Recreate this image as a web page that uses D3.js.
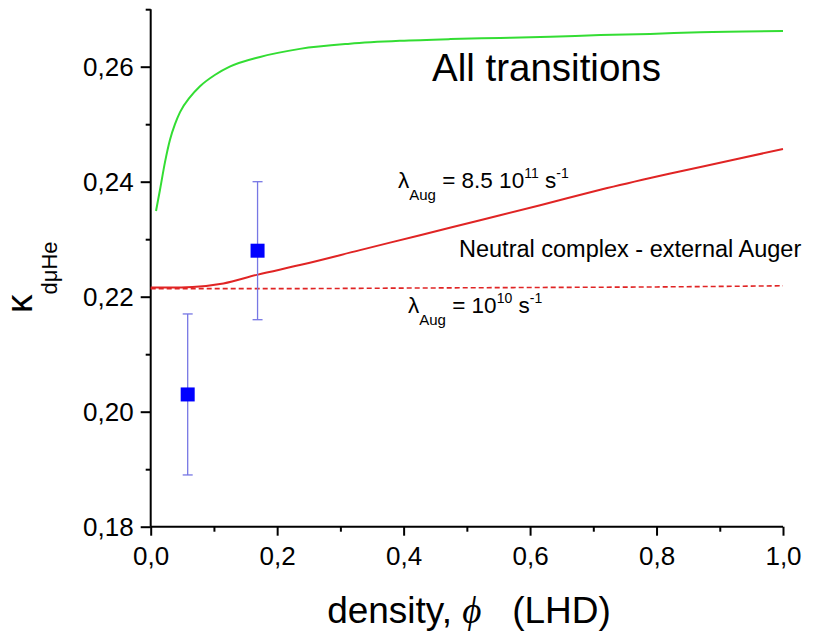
<!DOCTYPE html>
<html><head><meta charset="utf-8">
<script src="https://cdn.jsdelivr.net/npm/d3@7"></script>
<style>
body{margin:0;background:#fff;}
svg{display:block;font-family:"Liberation Sans",Arial,Helvetica,sans-serif;}
</style></head>
<body><svg id="chart" width="817" height="635"></svg>
<script>
// ---- data ----
const xTickValues = [0, 0.2, 0.4, 0.6, 0.8, 1.0];
const xTickLabels = ["0,0", "0,2", "0,4", "0,6", "0,8", "1,0"];
const xMinorTicks = [0.1, 0.3, 0.5, 0.7, 0.9];
const yTickValues = [0.18, 0.20, 0.22, 0.24, 0.26];
const yTickLabels = ["0,18", "0,20", "0,22", "0,24", "0,26"];
const yMinorTicks = [0.19, 0.21, 0.23, 0.25, 0.27];

// All transitions (green)
const phiGreen = [0.0084, 0.0147, 0.0226, 0.0305, 0.0384, 0.0464, 0.0622, 0.078, 0.102, 0.125, 0.173, 0.236, 0.315, 0.394, 0.474, 0.553, 0.632, 0.711, 0.79, 0.869, 1.0];
const kGreen   = [0.2349, 0.2386, 0.2434, 0.2473, 0.2500, 0.2521, 0.2547, 0.2566, 0.2586, 0.2600, 0.2617, 0.2631, 0.2640, 0.2645, 0.2648, 0.2650, 0.2652, 0.2655, 0.2657, 0.2660, 0.2662];

// Neutral complex, lambda = 8.5e11 (red solid)
const phiRed = [0.0, 0.03, 0.066, 0.115, 0.168, 0.236, 0.331, 0.426, 0.521, 0.616, 0.711, 0.722, 0.82, 0.922, 1.0];
const kRed   = [0.2216, 0.2216, 0.2217, 0.2223, 0.2238, 0.2255, 0.2281, 0.2307, 0.2333, 0.2359, 0.2386, 0.2389, 0.2414, 0.2438, 0.2457];

// lambda = 1e10 (red dashed)
const phiDash = [0.0, 0.2, 0.4, 0.6, 0.8, 1.0];
const kDash   = [0.2214, 0.2214, 0.2215, 0.2216, 0.2217, 0.2219];

// experimental points
const phiData = [0.0585, 0.169];
const kData   = [0.203, 0.228];
const kErr    = [0.014, 0.012];

// ---- chart ----
const svg = d3.select("#chart");
const x = d3.scaleLinear().domain([0, 1]).range([150.7, 783]);
const y = d3.scaleLinear().domain([0.18, 0.27]).range([526.7, 9.2]);

// axes
const gx = svg.append("g").attr("transform", `translate(0,${y(0.18)})`)
  .call(d3.axisBottom(x).tickValues(xTickValues).tickSize(9).tickSizeOuter(0)
    .tickFormat((d, i) => xTickLabels[i]));
const gxm = svg.append("g").attr("transform", `translate(0,${y(0.18)})`)
  .call(d3.axisBottom(x).tickValues(xMinorTicks).tickSize(5).tickFormat(""));
gxm.select(".domain").remove();
const gy = svg.append("g").attr("transform", `translate(${x(0)},0)`)
  .call(d3.axisLeft(y).tickValues(yTickValues).tickSize(10).tickSizeOuter(0)
    .tickFormat((d, i) => yTickLabels[i]));
const gym = svg.append("g").attr("transform", `translate(${x(0)},0)`)
  .call(d3.axisLeft(y).tickValues(yMinorTicks).tickSize(5).tickFormat(""));
gym.select(".domain").remove();

[gx, gy, gxm, gym].forEach(g => {
  g.selectAll(".domain").attr("stroke", "#000").attr("stroke-width", 2);
  g.selectAll(".tick line").attr("stroke", "#000").attr("stroke-width", 2);
});
gx.select(".domain").attr("d", `M${x(0)},0H${x(1)}`);
gy.select(".domain").attr("d", `M0,${y(0.18)}V${y(0.27)}`);
gx.selectAll(".tick text").attr("font-size", 26).attr("font-family", "Liberation Sans, Arial, sans-serif")
  .attr("fill", "#000").attr("y", 0).attr("dy", 0)
  .attr("transform", "translate(0,38)");
gy.selectAll(".tick text").attr("font-size", 26).attr("font-family", "Liberation Sans, Arial, sans-serif")
  .attr("fill", "#000").attr("x", -17).attr("dy", "0.35em");

// lines
const line = d3.line().x(d => x(d[0])).y(d => y(d[1])).curve(d3.curveMonotoneX);
svg.append("path").datum(phiGreen.map((p, i) => [p, kGreen[i]]))
  .attr("d", line).attr("fill", "none").attr("stroke", "#33dd33").attr("stroke-width", 2);
svg.append("path").datum(phiRed.map((p, i) => [p, kRed[i]]))
  .attr("d", line).attr("fill", "none").attr("stroke", "#e02424").attr("stroke-width", 2);
svg.append("path").datum(phiDash.map((p, i) => [p, kDash[i]]))
  .attr("d", line).attr("fill", "none").attr("stroke", "#e02424").attr("stroke-width", 1.6)
  .attr("stroke-dasharray", "5,3");

// error bars
const eb = svg.append("g").attr("stroke", "#7777e4").attr("stroke-width", 1.3);
phiData.forEach((p, i) => {
  const cx = x(p);
  eb.append("line").attr("x1", cx).attr("x2", cx).attr("y1", y(kData[i] + kErr[i])).attr("y2", y(kData[i] - kErr[i]));
  eb.append("line").attr("x1", cx - 5).attr("x2", cx + 5).attr("y1", y(kData[i] + kErr[i])).attr("y2", y(kData[i] + kErr[i]));
  eb.append("line").attr("x1", cx - 5).attr("x2", cx + 5).attr("y1", y(kData[i] - kErr[i])).attr("y2", y(kData[i] - kErr[i]));
});
svg.append("g").selectAll("rect").data(phiData).join("rect")
  .attr("x", d => x(d) - 7).attr("y", (d, i) => y(kData[i]) - 7)
  .attr("width", 14).attr("height", 14).attr("fill", "#0000ff");

// annotations
svg.append("text").attr("x", 432).attr("y", 81).attr("font-size", 38.5).attr("fill", "#000").text("All transitions");
svg.append("text").attr("x", 459).attr("y", 257).attr("font-size", 23.5).attr("fill", "#000").text("Neutral complex - external Auger");

function lambdaLabel(x0, y0, main, exp) {
  const t = svg.append("text").attr("x", x0).attr("y", y0).attr("fill", "#000").attr("font-size", 22.5);
  t.append("tspan").text("λ");
  t.append("tspan").attr("font-size", 15).attr("dy", 12).text("Aug");
  t.append("tspan").attr("dy", -12).text(main);
  t.append("tspan").attr("font-size", 14).attr("dy", -10).text(exp);
  t.append("tspan").attr("dy", 10).text(" s");
  t.append("tspan").attr("font-size", 14).attr("dy", -10).text("-1");
}
lambdaLabel(398, 188, " = 8.5 10", "11");
lambdaLabel(408, 313, " = 10", "10");

// axis titles
const xt = svg.append("text").attr("x", 469).attr("y", 623).attr("text-anchor", "middle")
  .attr("font-size", 37).attr("fill", "#000");
xt.append("tspan").text("density, ");
xt.append("tspan").attr("font-style", "italic").attr("font-family", "Liberation Serif, serif").text("ϕ");
xt.append("tspan").text("\u00a0\u00a0\u00a0(LHD)");

const yt = svg.append("text").attr("transform", "translate(32,313) rotate(-90)").attr("fill", "#000");
yt.append("tspan").attr("font-size", 37).text("κ");
yt.append("tspan").attr("font-size", 22).attr("dy", 25).text("dμHe");
</script></body></html>
